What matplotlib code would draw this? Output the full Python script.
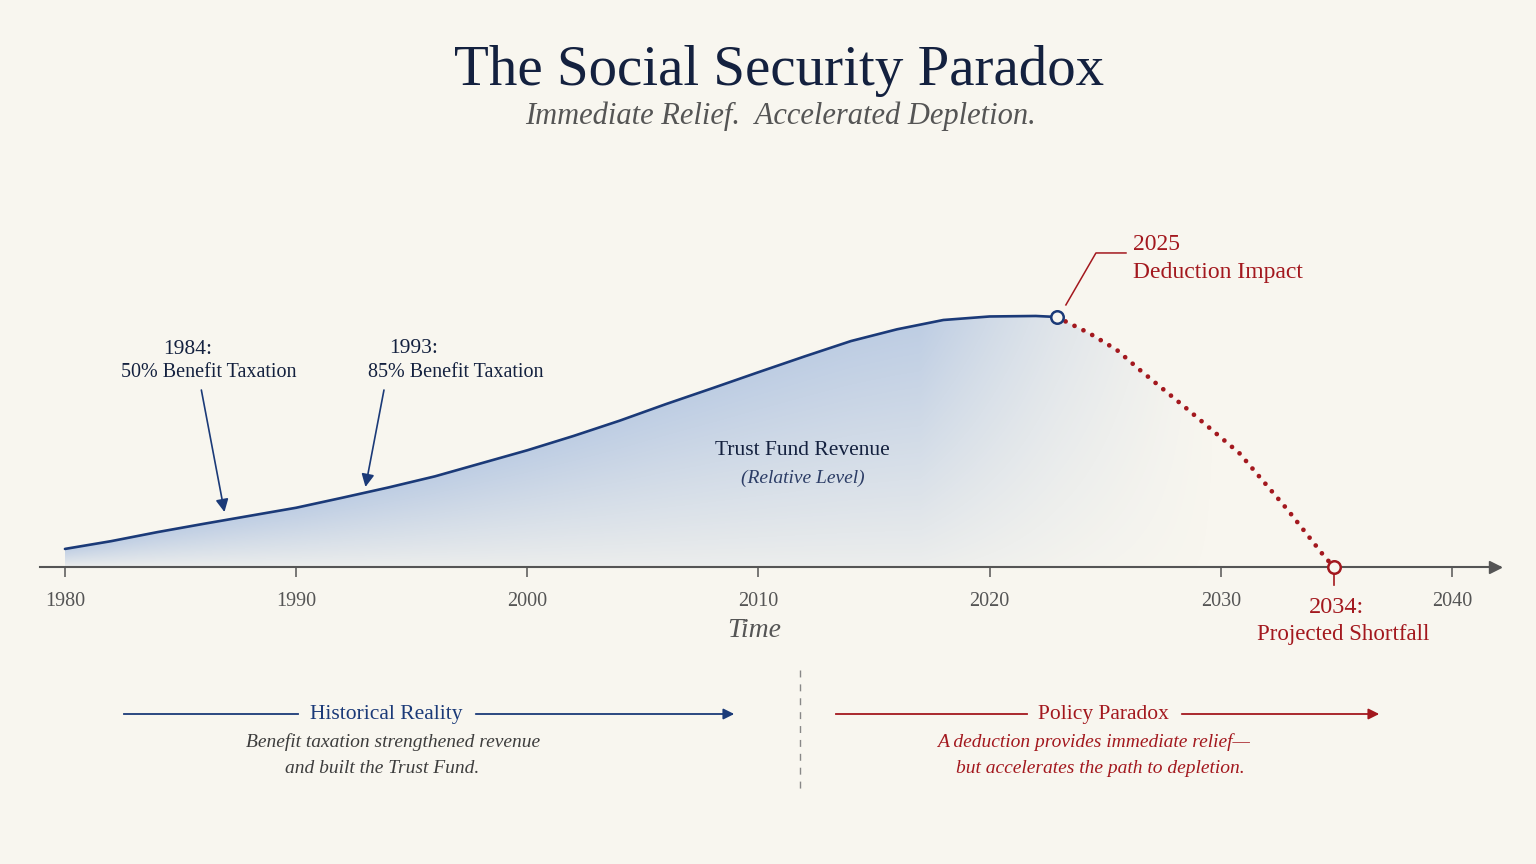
import numpy as np
import matplotlib.pyplot as plt
from matplotlib.patches import FancyArrowPatch

# colours
BG = '#f8f6ef'
NAVY = '#1b3a78'
TITLE = '#14213f'
RED = '#a3181e'
GRAY = '#555555'
FILL_RGB = (0.62, 0.72, 0.87)

# trust fund revenue (relative level, peak = 100)
hist_years = [1980, 1982, 1984, 1986, 1988, 1990, 1992, 1994, 1996, 1998, 2000,
              2002, 2004, 2006, 2008, 2010, 2012, 2014, 2016, 2018, 2020, 2022, 2022.9]
hist_level = [7.2, 10.3, 13.9, 17.2, 20.4, 23.6, 27.6, 31.7, 36.1, 41.3, 46.5,
              52.2, 58.3, 64.9, 71.2, 77.6, 83.9, 90.0, 94.7, 98.4, 99.8, 100.0, 99.6]
# projected path after the deduction
proj_years = [2022.9, 2024.3, 2025.5, 2026.5, 2028.5, 2030.8, 2032.9, 2034.5, 2034.9]
proj_level = [99.6, 93.2, 86.5, 78.5, 63.3, 45.4, 22.7, 4.0, 0.0]

tick_years = [1980, 1990, 2000, 2010, 2020, 2030, 2040]

plt.rcParams['font.family'] = ['Liberation Serif', 'DejaVu Serif']

fig = plt.figure(figsize=(15.36, 8.64), dpi=100, facecolor=BG)
ax = fig.add_axes([40 / 1536, 297 / 864, 1460 / 1536, 367 / 864])
ax.set_facecolor('none')
ax.set_xlim(1978.92, 2042.08)
ax.set_ylim(0, 146.2)


def fx(px):
    return px / 1536


def fy(py):
    return 1 - py / 864


# gradient fill under curve and projection
x_all = np.array(hist_years + proj_years[1:])
y_all = np.array(hist_level + proj_level[1:])
poly = ax.fill_between(x_all, 0, y_all, facecolor='none', edgecolor='none')
gx = np.linspace(1980, 2035, 600)
gy = np.linspace(0, 101, 300)
GX, GY = np.meshgrid(gx, gy)
top = np.interp(gx, x_all, y_all)
rel = np.clip(GY / np.maximum(top, 1), 0, 1)
fade = np.clip((2030 - GX) / 13.0, 0, 1) ** 1.4
rgba = np.zeros((len(gy), len(gx), 4))
rgba[..., 0], rgba[..., 1], rgba[..., 2] = FILL_RGB
rgba[..., 3] = 0.72 * (0.18 + 0.72 * rel ** 0.9) * fade
im = ax.imshow(rgba, extent=[1980, 2035, 0, 101], origin='lower', aspect='auto',
               interpolation='bilinear', zorder=1)
im.set_clip_path(poly.get_paths()[0], transform=ax.transData)

ax.plot(hist_years, hist_level, color=NAVY, lw=1.9, zorder=3,
        solid_capstyle='round', solid_joinstyle='round')
ax.plot(proj_years, proj_level, color=RED, lw=3.4, linestyle=(0, (0.01, 2.1)),
        dash_capstyle='round', zorder=3)
ax.plot(hist_years[-1], hist_level[-1], 'o', ms=9, mfc=BG, mec=NAVY, mew=1.8, zorder=4)
ax.plot(proj_years[-1], proj_level[-1], 'o', ms=9, mfc=BG, mec=RED, mew=1.8, zorder=5,
        clip_on=False)
ax.plot([proj_years[-1], proj_years[-1]], [-2, -7.2], color=RED, lw=1.2, clip_on=False)

# axis
for s in ['left', 'right', 'top']:
    ax.spines[s].set_visible(False)
ax.spines['bottom'].set_color(GRAY)
ax.spines['bottom'].set_linewidth(1.5)
ax.set_yticks([])
ax.set_xticks(tick_years)
ax.set_xticklabels([str(t) for t in tick_years])
ax.tick_params(axis='x', direction='out', length=7, width=1.1, color=GRAY,
               labelcolor=GRAY, labelsize=14.5, pad=11)
ax.plot(0.9966, 0, '>', transform=ax.get_yaxis_transform(), clip_on=False, ms=9,
        color=GRAY, zorder=6)
ax.text(2009.8, -25.1, 'Time', style='italic', fontsize=20, color=GRAY,
        ha='center', va='center')

# titles
fig.text(0.5075, fy(85), 'The Social Security Paradox', fontsize=41, color=TITLE,
         ha='center', va='baseline')
fig.text(0.508, fy(124), 'Immediate Relief.  Accelerated Depletion.', fontsize=22,
         style='italic', color=GRAY, ha='center', va='baseline')

# policy annotations
ax.text(1985.3, 86.8, '1984:', fontsize=15.5, color=TITLE, ha='center', va='center')
ax.text(1986.2, 77.3, '50% Benefit Taxation', fontsize=14.5, color=TITLE,
        ha='center', va='center')
ax.text(1995.1, 87.2, '1993:', fontsize=15.5, color=TITLE, ha='center', va='center')
ax.text(1996.9, 77.3, '85% Benefit Taxation', fontsize=14.5, color=TITLE,
        ha='center', va='center')
arr = dict(arrowstyle='-|>', color=NAVY, lw=1.2, mutation_scale=19, shrinkA=0, shrinkB=0)
ax.annotate('', xy=(1986.9, 21.9), xytext=(1985.9, 70.5), arrowprops=arr)
ax.annotate('', xy=(1993.0, 31.9), xytext=(1993.8, 70.5), arrowprops=arr)

ax.text(2011.9, 46.6, 'Trust Fund Revenue', fontsize=15.5, color=TITLE,
        ha='center', va='center', zorder=5)
ax.text(2011.9, 35.5, '(Relative Level)', fontsize=14, style='italic', color='#2c3d66',
        ha='center', va='center', zorder=5)

# 2025 leader
ax.plot([2023.3, 2024.6, 2025.9], [104.4, 125.1, 125.1], color=RED, lw=1.1)
ax.text(2026.2, 128.3, '2025', fontsize=17, color=RED, ha='left', va='center')
ax.text(2026.2, 117.5, 'Deduction Impact', fontsize=17, color=RED, ha='left', va='center')

# 2034 label
ax.text(2035.0, -16.3, '2034:', fontsize=17.5, color=RED, ha='center', va='center')
ax.text(2035.3, -26.7, 'Projected Shortfall', fontsize=16.5, color=RED,
        ha='center', va='center')

# bottom panel
fig.add_artist(plt.Line2D([fx(800), fx(800)], [fy(670), fy(792)], color='#888888',
                          lw=1, linestyle=(0, (5, 5))))

fig.add_artist(plt.Line2D([fx(124), fx(298)], [fy(714), fy(714)], color=NAVY, lw=1.3))
fig.add_artist(FancyArrowPatch((fx(473), fy(714)), (fx(737), fy(714)),
                               transform=fig.transFigure, arrowstyle='-|>',
                               mutation_scale=16, lw=1.3, color=NAVY))
fig.text(fx(386), fy(719), 'Historical Reality', fontsize=15.5, color=NAVY,
         ha='center', va='baseline')
fig.text(fx(393), fy(747), 'Benefit taxation strengthened revenue', fontsize=14,
         style='italic', color='#3d3d3d', ha='center', va='baseline')
fig.text(fx(382), fy(773), 'and built the Trust Fund.', fontsize=14,
         style='italic', color='#3d3d3d', ha='center', va='baseline')

fig.add_artist(plt.Line2D([fx(836), fx(1027)], [fy(714), fy(714)], color=RED, lw=1.3))
fig.add_artist(FancyArrowPatch((fx(1179), fy(714)), (fx(1382), fy(714)),
                               transform=fig.transFigure, arrowstyle='-|>',
                               mutation_scale=16, lw=1.3, color=RED))
fig.text(fx(1103), fy(719), 'Policy Paradox', fontsize=15.5, color=RED,
         ha='center', va='baseline')
fig.text(fx(1093), fy(747), 'A deduction provides immediate relief\u2014', fontsize=14,
         style='italic', color=RED, ha='center', va='baseline')
fig.text(fx(1100), fy(773), 'but accelerates the path to depletion.', fontsize=14,
         style='italic', color=RED, ha='center', va='baseline')

fig.savefig('out.png', dpi=100, facecolor=BG)
